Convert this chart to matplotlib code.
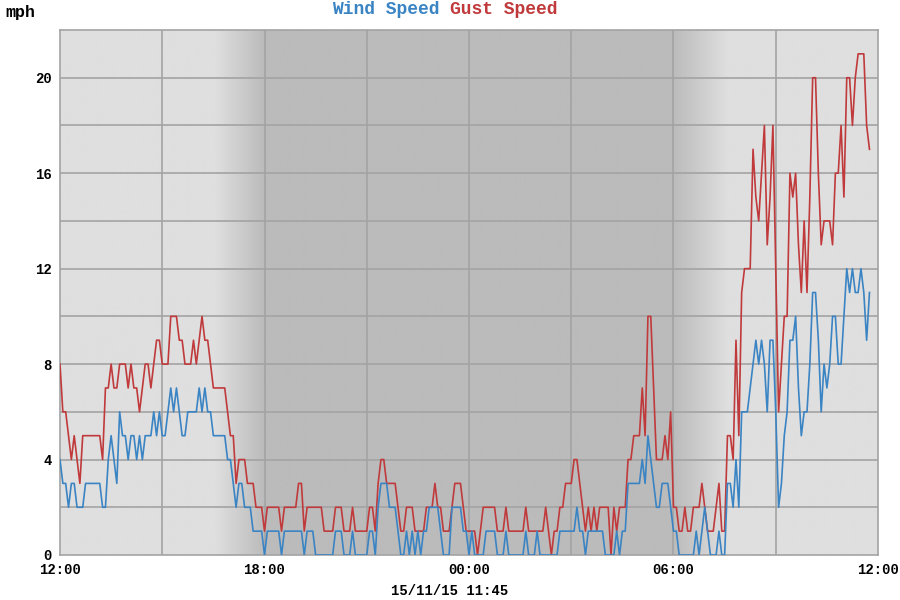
import numpy as np
import matplotlib
matplotlib.use('Agg')
import matplotlib.pyplot as plt
from matplotlib.colors import LinearSegmentedColormap

# 5-minute samples from 12:00 to 11:45 next day (mph)
gust_speed = [
    8, 6, 6, 5, 4, 5, 4, 3, 5, 5, 5, 5,
    5, 5, 5, 4, 7, 7, 8, 7, 7, 8, 8, 8,
    7, 8, 7, 7, 6, 7, 8, 8, 7, 8, 9, 9,
    8, 8, 8, 10, 10, 10, 9, 9, 8, 8, 8, 9,
    8, 9, 10, 9, 9, 8, 7, 7, 7, 7, 7, 6,
    5, 5, 3, 4, 4, 4, 3, 3, 3, 2, 2, 2,
    1, 2, 2, 2, 2, 2, 1, 2, 2, 2, 2, 2,
    3, 3, 1, 2, 2, 2, 2, 2, 2, 1, 1, 1,
    1, 2, 2, 2, 1, 1, 1, 2, 1, 1, 1, 1,
    1, 2, 2, 1, 3, 4, 4, 3, 3, 3, 3, 2,
    1, 1, 2, 2, 2, 1, 1, 1, 1, 2, 2, 2,
    3, 2, 2, 1, 1, 1, 2, 3, 3, 3, 2, 1,
    1, 1, 1, 0, 1, 2, 2, 2, 2, 2, 1, 1,
    1, 2, 1, 1, 1, 1, 1, 1, 2, 1, 1, 1,
    1, 1, 1, 2, 1, 0, 1, 1, 2, 2, 3, 3,
    3, 4, 4, 3, 2, 1, 2, 1, 2, 1, 2, 2,
    2, 2, 0, 2, 1, 2, 2, 2, 4, 4, 5, 5,
    5, 7, 5, 10, 10, 7, 4, 4, 4, 5, 4, 6,
    2, 2, 1, 1, 2, 1, 1, 2, 2, 2, 3, 2,
    1, 1, 1, 2, 3, 1, 1, 5, 5, 4, 9, 5,
    11, 12, 12, 12, 17, 15, 14, 16, 18, 13, 15, 18,
    12, 6, 8, 10, 10, 16, 15, 16, 13, 11, 14, 11,
    15, 20, 20, 16, 13, 14, 14, 14, 13, 16, 16, 18,
    15, 20, 20, 18, 20, 21, 21, 21, 18, 17,
]
wind_speed = [
    4, 3, 3, 2, 3, 3, 2, 2, 2, 3, 3, 3,
    3, 3, 3, 2, 2, 4, 5, 4, 3, 6, 5, 5,
    4, 5, 5, 4, 5, 4, 5, 5, 5, 6, 5, 6,
    5, 5, 6, 7, 6, 7, 6, 5, 5, 6, 6, 6,
    6, 7, 6, 7, 6, 6, 5, 5, 5, 5, 5, 4,
    4, 3, 2, 3, 3, 2, 2, 2, 1, 1, 1, 1,
    0, 1, 1, 1, 1, 1, 0, 1, 1, 1, 1, 1,
    1, 1, 0, 1, 1, 1, 0, 0, 0, 0, 0, 0,
    0, 1, 1, 1, 0, 0, 0, 1, 0, 0, 0, 0,
    0, 1, 1, 0, 2, 3, 3, 3, 2, 2, 2, 1,
    0, 0, 1, 0, 1, 0, 1, 0, 1, 1, 2, 2,
    2, 2, 1, 0, 0, 0, 2, 2, 2, 2, 1, 1,
    0, 1, 0, 0, 0, 0, 1, 1, 1, 1, 0, 0,
    0, 1, 0, 0, 0, 0, 0, 0, 1, 0, 0, 0,
    1, 0, 0, 0, 0, 0, 0, 0, 1, 1, 1, 1,
    1, 1, 2, 1, 1, 0, 1, 1, 1, 1, 1, 1,
    0, 0, 0, 0, 1, 0, 1, 1, 3, 3, 3, 3,
    3, 4, 3, 5, 4, 3, 2, 2, 3, 3, 3, 2,
    1, 1, 0, 0, 0, 0, 0, 0, 1, 0, 1, 2,
    1, 0, 0, 0, 1, 0, 0, 3, 3, 2, 4, 2,
    6, 6, 6, 7, 8, 9, 8, 9, 8, 6, 9, 9,
    6, 2, 3, 5, 6, 9, 9, 10, 7, 5, 6, 6,
    8, 11, 11, 9, 6, 8, 7, 8, 10, 10, 8, 8,
    10, 12, 11, 12, 11, 11, 12, 11, 9, 11,
]
hours = np.arange(len(gust_speed)) * 5 / 60.0   # hours after 12:00

tick_hours = [0, 6, 12, 18, 24]
tick_labels = ['12:00', '18:00', '00:00', '06:00', '12:00']
y_ticks = [0, 4, 8, 12, 16, 20]

# night shading (hours after 12:00)
dusk_start, dusk_end = 4.55, 6.0
dawn_start, dawn_end = 18.0, 19.6

LIGHT = '#dfdfdf'
DARK = '#bbbbbb'
GRID = '#a3a3a3'
BLUE = '#3a84c4'
RED = '#c03a3c'
FONT = 'Liberation Mono'

plt.rcParams['font.family'] = [FONT, 'DejaVu Sans']
plt.rcParams['font.weight'] = 'bold'

fig = plt.figure(figsize=(9, 6), dpi=100)
ax = fig.add_axes([60 / 900, 1 - 555 / 600, 818 / 900, 525 / 600])

# background: light day, dark night with soft edges
xs = np.linspace(0, 24, 1200)
shade = np.zeros_like(xs)
shade[(xs >= dusk_end) & (xs <= dawn_start)] = 1.0
m = (xs > dusk_start) & (xs < dusk_end)
shade[m] = (xs[m] - dusk_start) / (dusk_end - dusk_start)
m = (xs > dawn_start) & (xs < dawn_end)
shade[m] = 1 - (xs[m] - dawn_start) / (dawn_end - dawn_start)
cmap = LinearSegmentedColormap.from_list('daynight', [LIGHT, DARK])
ax.imshow(shade[np.newaxis, :], cmap=cmap, vmin=0, vmax=1, aspect='auto',
          extent=(0, 24, 0, 22), zorder=0, interpolation='bilinear')

# grid
for yv in range(2, 22, 2):
    ax.axhline(yv, color=GRID, lw=1.2, zorder=1)
for xv in range(3, 24, 3):
    ax.axvline(xv, color=GRID, lw=1.2, zorder=1)

ax.plot(hours, gust_speed, color=RED, lw=1.2, zorder=3)
ax.plot(hours, wind_speed, color=BLUE, lw=1.2, zorder=4)

ax.set_xlim(0, 24)
ax.set_ylim(0, 22)
ax.set_xticks(tick_hours)
ax.set_xticklabels(tick_labels)
ax.set_yticks(y_ticks)
ax.set_yticklabels([str(v) for v in y_ticks])
ax.tick_params(length=0, labelsize=10, pad=6)
for lab in ax.get_xticklabels() + ax.get_yticklabels():
    lab.set_fontweight('bold')
for sp in ax.spines.values():
    sp.set_color(GRID)
    sp.set_linewidth(1.2)

# title in two colours
fig.text(450 / 900, 1 - 10 / 600, 'Wind Speed ', color=BLUE, fontsize=13,
         fontweight='bold', ha='right', va='center')
fig.text(450 / 900, 1 - 10 / 600, 'Gust Speed', color=RED, fontsize=13,
         fontweight='bold', ha='left', va='center')
fig.text(5 / 900, 1 - 13 / 600, 'mph', fontsize=12, fontweight='bold',
         ha='left', va='center')
fig.text(450 / 900, 1 - 591 / 600, '15/11/15 11:45', fontsize=10,
         fontweight='bold', ha='center', va='center')

fig.savefig('out.png', dpi=100, facecolor='white')
